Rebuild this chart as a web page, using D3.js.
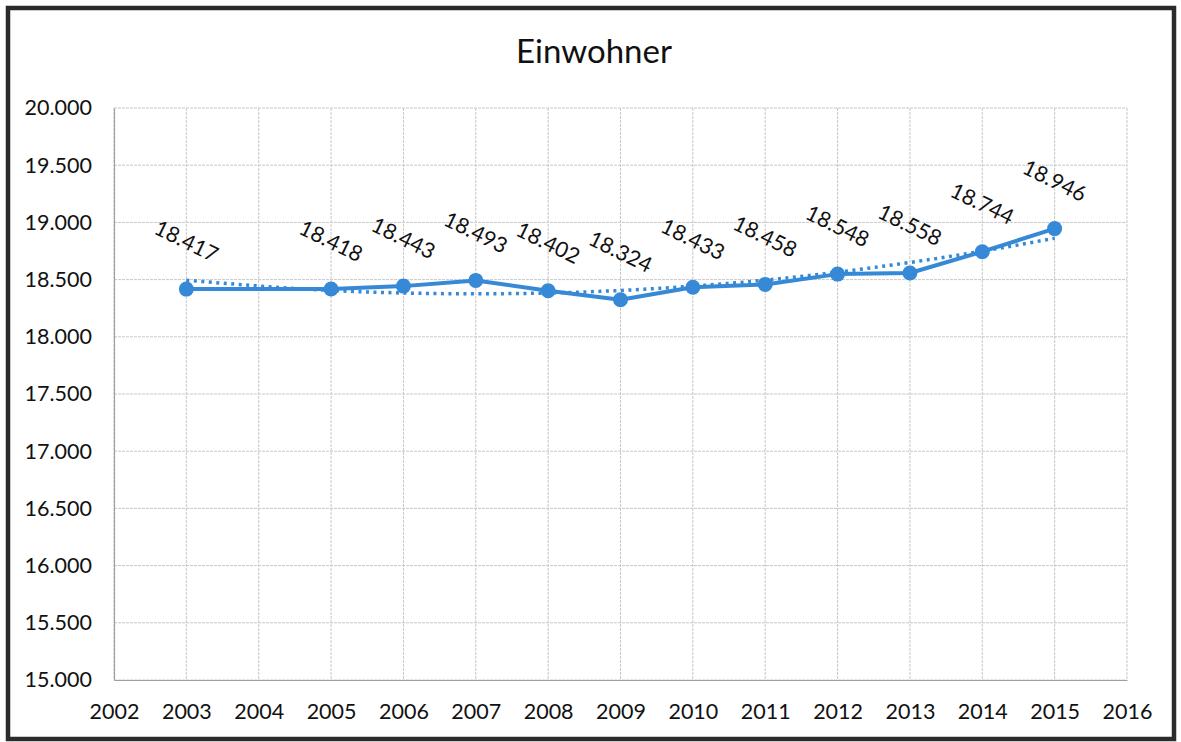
<!DOCTYPE html>
<html>
<head>
<meta charset="utf-8">
<script src="https://cdn.jsdelivr.net/npm/d3@7"></script>
<style>
  body { margin: 0; background: #fff; }
  svg { display: block; font-family: Lato, "Open Sans", sans-serif; }
</style>
</head>
<body>
<svg width="1181" height="742"></svg>
<script>
// values
var years = [2003, 2005, 2006, 2007, 2008, 2009, 2010, 2011, 2012, 2013, 2014, 2015]
var einwohner = [18417, 18418, 18443, 18493, 18402, 18324, 18433, 18458, 18548, 18558, 18744, 18946]
// dotted trend line
var trend = [18495, 18405, 18383, 18376, 18383, 18405, 18443, 18495, 18565, 18650, 18748, 18862]
var xTicks = d3.range(2002, 2017)
var yTicks = d3.range(15000, 20001, 500)

var plot = {left: 114, right: 1127, top: 108, bottom: 680}
var blue = "#3589d6"

var svg = d3.select("svg")

// outer frame
svg.append("rect")
  .attr("x", 8).attr("y", 8)
  .attr("width", 1166).attr("height", 731)
  .attr("fill", "none")
  .attr("stroke", "#2b2b2b")
  .attr("stroke-width", 4.5)

var xScale = d3.scaleLinear().domain([2002, 2016]).range([plot.left, plot.right])
var yScale = d3.scaleLinear().domain([15000, 20000]).range([plot.bottom, plot.top])

var fmt = function(v) { return d3.format(",.0f")(v).replace(",", ".") }

// title
svg.append("text")
  .attr("x", 594).attr("y", 63)
  .attr("text-anchor", "middle")
  .attr("font-size", 33)
  .attr("fill", "#111")
  .text("Einwohner")

// grid
var grid = svg.append("g")
grid.selectAll("line.h")
  .data(yTicks)
  .enter().append("line")
  .attr("x1", plot.left).attr("x2", plot.right)
  .attr("y1", function(d) { return yScale(d) })
  .attr("y2", function(d) { return yScale(d) })
  .attr("stroke", "#c8c8c8")
  .attr("stroke-width", 1)
  .attr("stroke-dasharray", "3,1")

grid.selectAll("line.v")
  .data(xTicks)
  .enter().append("line")
  .attr("y1", plot.top).attr("y2", plot.bottom)
  .attr("x1", function(d) { return xScale(d) })
  .attr("x2", function(d) { return xScale(d) })
  .attr("stroke", "#c8c8c8")
  .attr("stroke-width", 1)
  .attr("stroke-dasharray", "3,1")

// axes
var xAxis = d3.axisBottom(xScale).tickValues(xTicks).tickFormat(d3.format("d")).tickSize(0).tickPadding(24)
var yAxis = d3.axisLeft(yScale).tickValues(yTicks).tickFormat(fmt).tickSize(0).tickPadding(22)

svg.append("g")
  .attr("transform", "translate(0," + plot.bottom + ")")
  .call(xAxis)
svg.append("g")
  .attr("transform", "translate(" + plot.left + ",0)")
  .call(yAxis)

svg.selectAll(".domain").attr("stroke", "#a0a0a0").attr("stroke-width", 1.2)
svg.selectAll(".tick text")
  .attr("font-size", 21.5)
  .attr("font-family", "Lato, 'Open Sans', sans-serif")
  .attr("fill", "#111")

// trend line
var trendLine = d3.line()
  .x(function(d, i) { return xScale(years[i]) })
  .y(function(d) { return yScale(d) })
  .curve(d3.curveMonotoneX)

svg.append("path")
  .datum(trend)
  .attr("d", trendLine)
  .attr("fill", "none")
  .attr("stroke", blue)
  .attr("stroke-width", 3.5)
  .attr("stroke-dasharray", "3,4.5")

// main line
var line = d3.line()
  .x(function(d, i) { return xScale(years[i]) })
  .y(function(d) { return yScale(d) })

svg.append("path")
  .datum(einwohner)
  .attr("d", line)
  .attr("fill", "none")
  .attr("stroke", blue)
  .attr("stroke-width", 4)
  .attr("stroke-linejoin", "round")

svg.selectAll("circle.pt")
  .data(einwohner)
  .enter().append("circle")
  .attr("cx", function(d, i) { return xScale(years[i]) })
  .attr("cy", function(d) { return yScale(d) })
  .attr("r", 7.5)
  .attr("fill", blue)

// data labels
svg.selectAll("text.lbl")
  .data(einwohner)
  .enter().append("text")
  .attr("transform", function(d, i) {
    return "translate(" + xScale(years[i]) + "," + (yScale(d) - 48) + ") rotate(26)"
  })
  .attr("text-anchor", "middle")
  .attr("dy", "0.35em")
  .attr("font-size", 21.5)
  .attr("fill", "#111")
  .text(fmt)
</script>
</body>
</html>
